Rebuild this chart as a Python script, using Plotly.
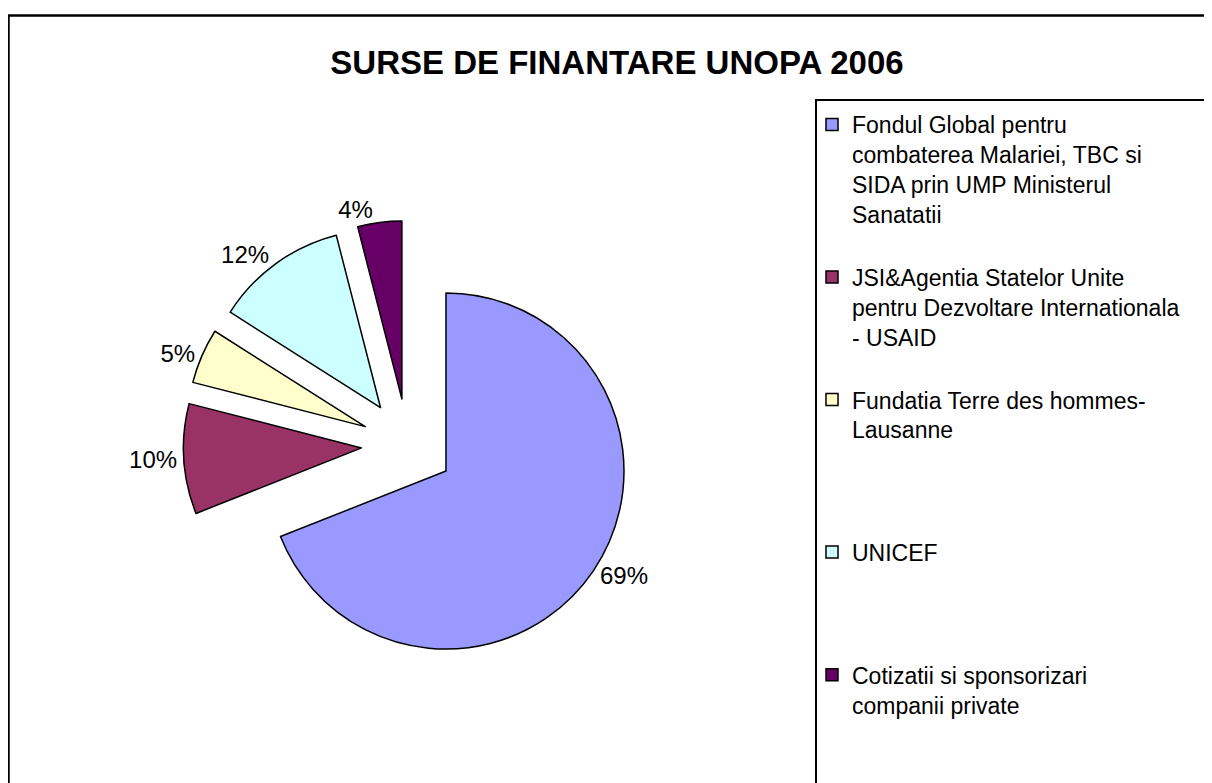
import plotly.graph_objects as go

title_text = "SURSE DE FINANTARE UNOPA 2006"
categories = [
    "Fondul Global pentru<br>combaterea Malariei, TBC si<br>SIDA prin UMP Ministerul<br>Sanatatii",
    "JSI&Agentia Statelor Unite<br>pentru Dezvoltare Internationala<br>- USAID",
    "Fundatia Terre des hommes-<br>Lausanne",
    "UNICEF",
    "Cotizatii si sponsorizari<br>companii private",
]
values = [69, 10, 5, 12, 4]
colors = ["#9999FF", "#993366", "#FFFFCC", "#CCFFFF", "#660066"]
pulls = [0.26, 0.26, 0.26, 0.26, 0.26]

W, H = 1212, 783
OFF = 8  # page body margin offset

# total lines reserved per legend entry (spacing between entries)
legend_slot_lines = [5, 4, 5, 4, 0]

def pad(label, slot):
    n = label.count("<br>") + 1
    return label + "<br>\u00a0" * max(0, slot - n)

legend_labels = [pad(c, s) for c, s in zip(categories, legend_slot_lines)]

# pie placement (pixels in the page)
cx, cy, R, P = 407.7 - OFF, 445 - OFF, 178, 0.26
half = R * (1 + P)

fig = go.Figure(go.Pie(
    labels=legend_labels,
    values=values,
    sort=False,
    direction="clockwise",
    rotation=0,
    pull=pulls,
    marker=dict(colors=colors, line=dict(color="black", width=1.5)),
    textinfo="percent",
    textposition="outside",
    textfont=dict(family="Liberation Sans, Arial", size=24, color="black"),
    hoverinfo="label+percent",
    domain=dict(x=[(cx - half) / W, (cx + half) / W],
                y=[1 - (cy + half) / H, 1 - (cy - half) / H]),
))

fig.update_layout(
    width=W, height=H,
    margin=dict(l=0, r=0, t=0, b=0, autoexpand=False),
    paper_bgcolor="white",
    plot_bgcolor="white",
    font=dict(family="Liberation Sans, Arial", color="black"),
    title=dict(text="<b>" + title_text + "</b>", x=(617 - OFF) / W, xanchor="center",
               y=1 - (62 - OFF) / H, yanchor="middle",
               font=dict(family="Liberation Sans, Arial", size=33, color="black")),
    showlegend=True,
    legend=dict(x=(812 - OFF) / W, xanchor="left", y=1 - (103 - OFF) / H, yanchor="top",
                font=dict(family="Liberation Sans, Arial", size=23, color="black"),
                valign="top", bgcolor="rgba(0,0,0,0)", borderwidth=0,
                itemclick=False, itemdoubleclick=False),
    shapes=[
        dict(type="rect", xref="paper", yref="paper",
             x0=(8.5 - OFF) / W, x1=1.05, y0=-0.05, y1=1 - (15.5 - OFF) / H,
             line=dict(color="black", width=2.5), fillcolor="rgba(0,0,0,0)"),
        dict(type="rect", xref="paper", yref="paper",
             x0=(816 - OFF) / W, x1=1.05, y0=-0.05, y1=1 - (100 - OFF) / H,
             line=dict(color="black", width=2), fillcolor="rgba(0,0,0,0)"),
    ],
)

fig.write_html("out.html")
